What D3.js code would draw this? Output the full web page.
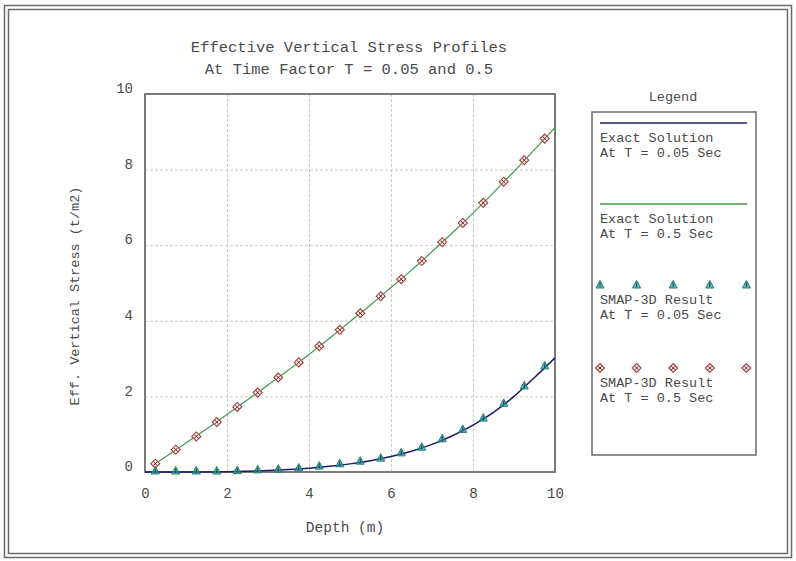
<!DOCTYPE html>
<html>
<head>
<meta charset="utf-8">
<script src="https://cdn.jsdelivr.net/npm/d3@7/dist/d3.min.js"></script>
<style>
  html, body { margin: 0; padding: 0; background: #fff; }
  svg { display: block; }
  text { font-family: "Liberation Mono", "DejaVu Sans Mono", monospace; fill: #4a4a4a; }
</style>
</head>
<body>
<svg id="chart" width="796" height="561"></svg>
<script>
// Sampled depths (m) of the SMAP-3D results
const sampleDepth = [0.25, 0.75, 1.25, 1.75, 2.25, 2.75, 3.25, 3.75, 4.25, 4.75,
                     5.25, 5.75, 6.25, 6.75, 7.25, 7.75, 8.25, 8.75, 9.25, 9.75];
// SMAP-3D effective vertical stress (t/m2)
const smapT005 = [0.0, 0.0, 0.0, 0.0, 0.01, 0.03, 0.05, 0.08, 0.13, 0.19,
                  0.26, 0.34, 0.48, 0.63, 0.85, 1.10, 1.40, 1.79, 2.25, 2.78];
const smapT05  = [0.22, 0.59, 0.94, 1.32, 1.72, 2.10, 2.50, 2.90, 3.33, 3.76,
                  4.20, 4.65, 5.10, 5.58, 6.08, 6.59, 7.12, 7.68, 8.25, 8.82];

// Exact solution curves
const exactDepthT005 = [0, 0.5, 1, 1.5, 2, 2.5, 3, 3.5, 4, 4.5, 5, 5.5, 6, 6.5, 7, 7.5, 8, 8.5, 9, 9.5, 10];
const exactT005 = [0, 0, 0, 0, 0.005, 0.02, 0.04, 0.065, 0.10, 0.15, 0.215, 0.30, 0.41, 0.55,
                   0.73, 0.96, 1.24, 1.58, 2.00, 2.50, 3.02];
const exactDepthT05 = [0.25, 0.5, 1, 1.5, 2, 2.5, 3, 3.5, 4, 4.5, 5, 5.5, 6, 6.5, 7, 7.5, 8, 8.5, 9, 9.5, 10];
const exactT05 = [0.22, 0.40, 0.77, 1.14, 1.52, 1.91, 2.30, 2.70, 3.11, 3.54, 3.98, 4.42, 4.88,
                  5.34, 5.83, 6.33, 6.85, 7.39, 7.95, 8.53, 9.11];

const xTicks = [0, 2, 4, 6, 8, 10];
const yTicks = [0, 2, 4, 6, 8, 10];

const titleLines = ["Effective Vertical Stress Profiles", "At Time Factor T = 0.05 and 0.5"];
const legendTitle = "Legend";
const legendItems = [
  { kind: "line", color: "#1c1c6a", label: ["Exact Solution", "At T = 0.05 Sec"] },
  { kind: "line", color: "#3f9a4a", label: ["Exact Solution", "At T = 0.5 Sec"] },
  { kind: "tri", color: "#2a9c9c", label: ["SMAP-3D Result", "At T = 0.05 Sec"] },
  { kind: "dia", color: "#a0403a", label: ["SMAP-3D Result", "At T = 0.5 Sec"] }
];

const svg = d3.select("#chart");

// double outer frame
svg.append("rect").attr("x", 4.5).attr("y", 5.5).attr("width", 787).attr("height", 552)
  .attr("fill", "none").attr("stroke", "#6a6a6a").attr("stroke-width", 1.5);
svg.append("rect").attr("x", 8.5).attr("y", 9.5).attr("width", 779).attr("height", 544)
  .attr("fill", "none").attr("stroke", "#6a6a6a").attr("stroke-width", 1.5);

const plot = { left: 145, right: 555, top: 94, bottom: 472 };
const x = d3.scaleLinear().domain([0, 10]).range([plot.left, plot.right]);
const y = d3.scaleLinear().domain([0, 10]).range([plot.bottom, plot.top]);

// grid
const grid = svg.append("g");
grid.selectAll("line.v").data(xTicks.slice(1, -1)).join("line")
  .attr("x1", d => x(d) + 0.5).attr("x2", d => x(d) + 0.5)
  .attr("y1", plot.top).attr("y2", plot.bottom)
  .attr("stroke", "#c8c8c8").attr("stroke-dasharray", "3,2");
grid.selectAll("line.h").data(yTicks.slice(1, -1)).join("line")
  .attr("x1", plot.left).attr("x2", plot.right)
  .attr("y1", d => y(d) + 0.5).attr("y2", d => y(d) + 0.5)
  .attr("stroke", "#c8c8c8").attr("stroke-dasharray", "3,2");

// axes with labels only, the frame is drawn separately
const xAxis = d3.axisBottom(x).tickValues(xTicks).tickSize(0).tickPadding(16);
const gx = svg.append("g").attr("transform", `translate(0,${plot.bottom})`).call(xAxis);
gx.select(".domain").remove();
gx.selectAll("text").attr("font-size", 14).style("fill", "#4a4a4a")
  .attr("font-family", "Liberation Mono, DejaVu Sans Mono, monospace");

const yAxis = d3.axisLeft(y).tickValues(yTicks).tickSize(0).tickPadding(12);
const gy = svg.append("g").attr("transform", `translate(${plot.left},0)`).call(yAxis);
gy.select(".domain").remove();
gy.selectAll("text").attr("font-size", 14).style("fill", "#4a4a4a")
  .attr("font-family", "Liberation Mono, DejaVu Sans Mono, monospace").attr("dy", "-0.1em");

// plot frame
svg.append("rect").attr("x", plot.left).attr("y", plot.top)
  .attr("width", plot.right - plot.left).attr("height", plot.bottom - plot.top)
  .attr("fill", "none").attr("stroke", "#7a7a7a").attr("stroke-width", 2);

// exact solution lines
const lineGen = d3.line().x(d => x(d[0])).y(d => y(d[1])).curve(d3.curveMonotoneX);
svg.append("path").datum(exactDepthT05.map((d, i) => [d, exactT05[i]]))
  .attr("d", lineGen).attr("fill", "none").attr("stroke", legendItems[1].color).attr("stroke-width", 1.2);
svg.append("path").datum(exactDepthT005.map((d, i) => [d, exactT005[i]]))
  .attr("d", lineGen).attr("fill", "none").attr("stroke", legendItems[0].color).attr("stroke-width", 1.5);

// markers
function triangle(g, cx, cy, color) {
  g.append("path")
    .attr("d", `M${cx},${cy - 4.5} L${cx + 4},${cy + 3} L${cx - 4},${cy + 3} Z`)
    .attr("fill", color).attr("fill-opacity", 0.7).attr("stroke", "#237a7b").attr("stroke-width", 1);
  g.append("line").attr("x1", cx).attr("x2", cx).attr("y1", cy - 2.5).attr("y2", cy + 2)
    .attr("stroke", "#0e3f40").attr("stroke-width", 1);
}
function diamond(g, cx, cy, color) {
  g.append("path")
    .attr("d", `M${cx},${cy - 4.5} L${cx + 4.5},${cy} L${cx},${cy + 4.5} L${cx - 4.5},${cy} Z`)
    .attr("fill", "#fbeeee").attr("stroke", color).attr("stroke-width", 1.1);
  g.append("path")
    .attr("d", `M${cx - 1.8},${cy - 1.8} L${cx + 1.8},${cy + 1.8} M${cx + 1.8},${cy - 1.8} L${cx - 1.8},${cy + 1.8}`)
    .attr("stroke", "#6a1f1a").attr("stroke-width", 1);
}

const mk = svg.append("g");
sampleDepth.forEach((d, i) => diamond(mk, x(d), y(smapT05[i]), legendItems[3].color));
sampleDepth.forEach((d, i) => triangle(mk, x(d), y(smapT005[i]) - 1, legendItems[2].color));

// title
svg.append("g").selectAll("text").data(titleLines).join("text")
  .attr("x", 349).attr("y", (d, i) => 52 + i * 22)
  .attr("text-anchor", "middle").attr("font-size", 15.5).text(d => d);

// axis titles
svg.append("text").attr("x", 345).attr("y", 532).attr("text-anchor", "middle")
  .attr("font-size", 14.5).text("Depth (m)");
svg.append("text").attr("transform", "translate(79,296) rotate(-90)")
  .attr("text-anchor", "middle").attr("font-size", 13.5).text("Eff. Vertical Stress (t/m2)");

// legend
const lg = { left: 592, right: 756, top: 112, bottom: 455 };
svg.append("text").attr("x", 673).attr("y", 101).attr("text-anchor", "middle")
  .attr("font-size", 13.5).text(legendTitle);
svg.append("rect").attr("x", lg.left).attr("y", lg.top)
  .attr("width", lg.right - lg.left).attr("height", lg.bottom - lg.top)
  .attr("fill", "none").attr("stroke", "#6a6a6a").attr("stroke-width", 1.5);

const rowY = [123, 204, 285, 368];
const markerX = d3.range(5).map(i => 600 + i * 36.6);
legendItems.forEach((item, i) => {
  const yy = rowY[i];
  if (item.kind === "line") {
    svg.append("line").attr("x1", 600).attr("x2", 747).attr("y1", yy).attr("y2", yy)
      .attr("stroke", item.color).attr("stroke-width", 1.5);
  } else {
    markerX.forEach(mx => item.kind === "tri" ? triangle(svg, mx, yy, item.color) : diamond(svg, mx, yy, item.color));
  }
  svg.append("g").selectAll("text").data(item.label).join("text")
    .attr("x", 600).attr("y", (d, j) => yy + 19 + j * 15)
    .attr("font-size", 13.5).text(d => d);
});
</script>
</body>
</html>
